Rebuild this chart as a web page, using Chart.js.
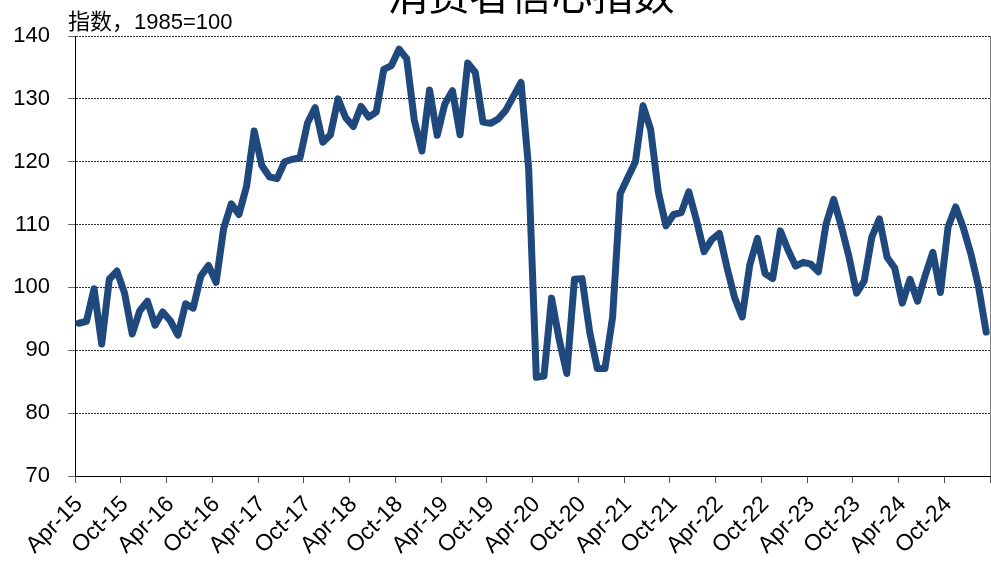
<!DOCTYPE html>
<html>
<head>
<meta charset="utf-8">
<script src="https://cdn.jsdelivr.net/npm/chart.js@4/dist/chart.umd.min.js"></script>
<style>
  html, body { margin: 0; padding: 0; background: #fff; }
  #wrap { width: 991px; height: 561px; position: relative; }
</style>
</head>
<body>
<div id="wrap"><canvas id="chartCCI"></canvas></div>
<script>
/* Conference Board consumer confidence, monthly Apr-15 .. Mar-25 */
var startYear = 2015, startMonth = 3;   // Apr (0-based)
var monNames = ['Jan','Feb','Mar','Apr','May','Jun','Jul','Aug','Sep','Oct','Nov','Dec'];

var cci2015 = [94.3, 94.6, 99.8, 91.0, 101.3, 102.6, 99.1, 92.6, 96.3];
var cci2016 = [97.8, 94.0, 96.1, 94.7, 92.4, 97.4, 96.7, 101.8, 103.5, 100.8, 109.4, 113.3];
var cci2017 = [111.6, 116.1, 124.9, 119.4, 117.6, 117.3, 120.0, 120.4, 120.6, 126.2, 128.6, 123.1];
var cci2018 = [124.3, 130.0, 127.0, 125.6, 128.8, 127.1, 127.9, 134.7, 135.3, 137.9, 136.4, 126.6];
var cci2019 = [121.7, 131.4, 124.2, 129.2, 131.3, 124.3, 135.7, 134.2, 126.3, 126.1, 126.8, 128.2];
var cci2020 = [130.4, 132.6, 118.8, 85.7, 85.9, 98.3, 91.7, 86.3, 101.3, 101.4, 92.9, 87.1];
var cci2021 = [87.1, 95.2, 114.9, 117.5, 120.0, 128.9, 125.1, 115.2, 109.8, 111.6, 111.9, 115.2];
var cci2022 = [110.7, 105.7, 107.6, 108.6, 103.2, 98.4, 95.3, 103.6, 107.8, 102.2, 101.4, 109.0];
var cci2023 = [106.0, 103.4, 104.0, 103.7, 102.5, 110.1, 114.0, 109.7, 104.9, 99.1, 101.0, 108.0];
var cci2024 = [110.9, 104.8, 103.1, 97.5, 101.3, 97.8, 101.9, 105.6, 99.2, 109.6, 112.8, 109.5];
var cci2025 = [105.3, 100.1, 92.9];

var cciValues = [].concat(cci2015, cci2016, cci2017, cci2018, cci2019, cci2020,
                          cci2021, cci2022, cci2023, cci2024, cci2025);

var yTicks = [70, 80, 90, 100, 110, 120, 130, 140];
var titleText = '消费者信心指数';
var unitText = '指数，1985=100';

function monthLabel(i) {
  var m = (startMonth + i) % 12;
  var y = startYear + Math.floor((startMonth + i) / 12);
  return monNames[m] + '-' + String(y).slice(2);
}

// each month is plotted mid-way between its tick and the next one
var points = cciValues.map(function (v, i) { return { x: i + 0.5, y: v }; });
var FONT = "'Liberation Sans', Arial, 'Noto Sans CJK SC', sans-serif";

/* title (clipped at top), unit label and right frame line */
var extras = {
  id: 'extras',
  afterDraw: function (chart) {
    var ctx = chart.ctx, a = chart.chartArea;
    ctx.save();
    ctx.strokeStyle = '#808080';
    ctx.lineWidth = 1;
    ctx.beginPath();
    ctx.moveTo(a.right + 0.5, a.top);
    ctx.lineTo(a.right + 0.5, a.bottom);
    ctx.stroke();

    ctx.fillStyle = '#000';
    ctx.textAlign = 'center';
    ctx.textBaseline = 'alphabetic';
    ctx.font = "41px 'Noto Sans CJK SC', sans-serif";
    ctx.fillText(titleText, 531, 10);

    ctx.textAlign = 'left';
    ctx.font = "22px 'Liberation Sans', 'Noto Sans CJK SC', sans-serif";
    ctx.fillText(unitText, 68, 29);
    ctx.restore();
  }
};

new Chart(document.getElementById('chartCCI'), {
  type: 'line',
  data: {
    datasets: [{
      data: points,
      borderColor: '#1F497D',
      borderWidth: 7,
      borderJoinStyle: 'round',
      borderCapStyle: 'round',
      pointRadius: 0,
      tension: 0,
      fill: false
    }]
  },
  options: {
    responsive: true,
    maintainAspectRatio: false,
    animation: false,
    layout: { padding: { top: 36, right: 1, left: 0, bottom: 0 } },
    plugins: { legend: { display: false }, tooltip: { enabled: false } },
    scales: {
      x: {
        type: 'linear',
        min: 0,
        max: cciValues.length,
        border: { color: '#000', width: 1 },
        grid: { drawOnChartArea: false, drawTicks: true, tickLength: 7, tickColor: '#555' },
        ticks: {
          stepSize: 6,
          autoSkip: false,
          minRotation: 45,
          maxRotation: 45,
          padding: 8,
          labelOffset: 4,
          color: '#000',
          font: { family: FONT, size: 23 },
          callback: function (v) { return v < cciValues.length ? monthLabel(v) : ''; }
        },
        afterFit: function (s) { s.height = 85; s.paddingLeft = 0; s.paddingRight = 0; }
      },
      y: {
        min: yTicks[0],
        max: yTicks[yTicks.length - 1],
        border: { color: '#000', width: 1, dash: [2, 1] },
        grid: {
          color: '#333',
          lineWidth: 1,
          tickBorderDash: [],
          tickColor: '#666',
          tickLength: 7
        },
        ticks: {
          stepSize: 10,
          padding: 18,
          color: '#000',
          font: { family: FONT, size: 22 }
        },
        afterFit: function (s) { s.width = 75; }
      }
    }
  },
  plugins: [extras]
});
</script>
</body>
</html>
